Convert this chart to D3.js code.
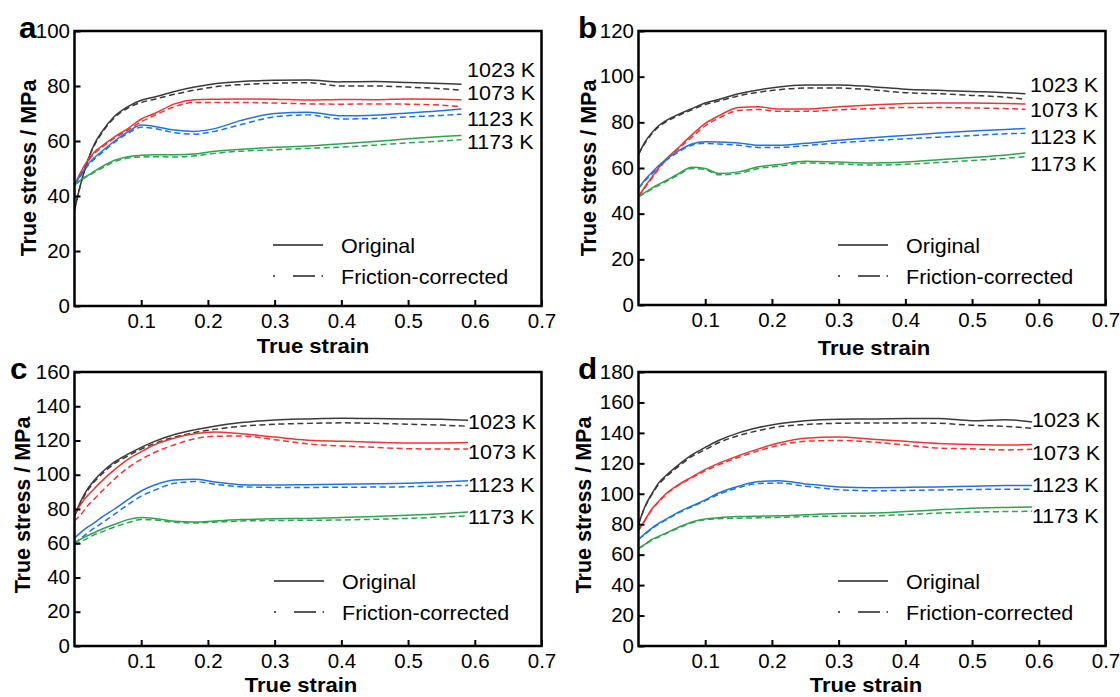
<!DOCTYPE html>
<html><head><meta charset="utf-8">
<script src="https://cdn.jsdelivr.net/npm/d3@7"></script>
<style>html,body{margin:0;padding:0;background:#fff;} svg{display:block;}</style>
</head><body>
<svg id="chart" width="1120" height="697"></svg>
<script>
// ---------- data ----------
const temps = ["1023 K", "1073 K", "1123 K", "1173 K"];
const xTickValues = [0.1, 0.2, 0.3, 0.4, 0.5, 0.6, 0.7];
const legendLabels = ["Original", "Friction-corrected"];
const panelLetters = ["a", "b", "c", "d"];
const yMaxes = [100, 120, 160, 180];

const strainAB = [0,0.01,0.02,0.03,0.04,0.06,0.08,0.10,0.12,0.15,0.18,0.21,0.25,0.30,0.35,0.40,0.45,0.50,0.55,0.58];
const strainCD = [0,0.01,0.02,0.03,0.04,0.06,0.08,0.10,0.12,0.15,0.18,0.21,0.25,0.30,0.35,0.40,0.45,0.50,0.55,0.59];

// panel a
const aOrig1023 = [35,45,53,59,63,69,72.5,74.8,76,78,79.6,80.8,81.6,82.1,82.2,81.5,81.6,81.3,80.9,80.6];
const aCorr1023 = [35,45,53,58.5,62.5,68.5,72,74,75.2,77,78.5,79.7,80.5,81,81.2,80,80,79.6,79,78.5];
const aOrig1073 = [44,49,53,56,58,61.5,64.5,68,70,73.5,75,75.2,75.3,75.2,74.9,75.1,75,75.3,75.2,75];
const aCorr1073 = [44,48.5,52.5,55.5,57.5,61,64,67,69.3,72.5,74,74,74,73.8,73.5,73.4,73.5,73.4,73,72.5];
const aOrig1123 = [44,48,51.5,54,56,60,63.3,65.8,65.3,64,63.5,64.5,67.5,70,70.5,69.2,69.4,70.2,71,71.6];
const aCorr1123 = [44,47.5,51,53.5,55.5,59.5,62.8,65,64.5,63,62.5,63.5,66,68.8,69.5,68,68.2,68.8,69.3,69.8];
const aOrig1173 = [44,46,47.5,49,50.5,53,54.3,54.8,55,55,55.3,56.3,57,57.7,58.2,59,59.8,60.8,61.6,62];
const aCorr1173 = [44,45.8,47.2,48.7,50,52.5,53.8,54.2,54.3,54.2,54.6,55.5,56.3,56.8,57.3,57.8,58.5,59.3,60,60.5];

// panel b
const bOrig1023 = [66,71.5,75.5,78.5,80.5,83.5,86,88.5,90,92.5,94.2,95.5,96.3,96.4,95.6,94.5,94,93.5,93,92.5];
const bCorr1023 = [66,71,75,78,80,83,85.5,87.8,89.3,91.6,93.2,94.3,95,95,94.2,93,92.5,91.8,91,90];
const bOrig1073 = [47.5,52,56,60,63.5,69,74.5,79.5,82.8,86.5,86.8,85.8,85.8,86.8,87.6,88.3,88.5,88.5,88.3,88];
const bCorr1073 = [47.5,51.5,55.5,59.5,63,68.5,73.5,78.5,81.8,85.2,85.6,84.8,84.8,85.5,86,86.5,86.5,86.3,86,85.7];
const bOrig1123 = [51,55,58,61,63.5,67.5,70.5,71.5,71.4,71,70,70,70.8,72.2,73.3,74.2,75.3,76.2,76.9,77.3];
const bCorr1123 = [51,54.5,57.5,60.5,63,67,70,70.8,70.5,70,69,69,69.8,71,72,72.8,73.5,74.2,75,75.2];
const bOrig1173 = [47.5,49.3,51.2,52.8,54.3,57.5,60.3,59.8,57.6,58.3,60.5,61.5,63,62.6,62.2,62.6,63.6,64.6,65.7,66.6];
const bCorr1173 = [47.5,49,50.8,52.3,53.8,57,59.8,59.3,57,57.6,59.8,60.8,62.2,61.8,61.3,61.6,62.4,63.3,64.2,65];

// panel c
const cOrig1023 = [76,85,92,97,101,107.5,112,116,119.5,123.5,126.2,128.3,130.5,132,132.6,133,132.8,132.6,132.4,131.8];
const cCorr1023 = [76,84,91,96,100,106.5,111,115,118.3,122,124.7,126.5,128.3,129.5,130,130.3,130,129.5,129,128.3];
const cOrig1073 = [77,83,88,92,96,103,109,113.5,117.5,121.5,124,125,124,122,120.2,119.6,119,118.6,118.6,118.8];
const cCorr1073 = [73,77,82,86,90,97.5,104,109,113,117.5,121,122.5,122.6,120.5,118,116.8,116,115.2,115,115];
const cOrig1123 = [63,66.5,69.5,72,75,80,85.5,90.5,94,97,97.3,95.8,94.2,94,94.2,94.4,94.7,95.1,95.8,96.5];
const cCorr1123 = [60,63,66,69,71.5,77,82.5,87.5,91,95,96,94.5,93,92.6,92.6,92.7,92.8,93,93.5,93.8];
const cOrig1173 = [60,62.5,64.5,66.3,68,71,73.8,75,74.5,72.8,72.4,73,73.8,74.3,74.5,75,75.6,76.3,77.2,78.2];
const cCorr1173 = [59,61,63,65,66.5,69.5,72,73.8,73.6,72.2,71.8,72.3,73,73.3,73.4,73.6,74,74.5,75.3,76];

// panel d
const dOrig1023 = [80,92,100,107,111.5,119,125.5,130.5,135,140,143.5,146,148,149,149.2,149.5,149.5,148,148.7,147.2];
const dCorr1023 = [80,91.5,99.5,106,110.5,118,124.5,129,133.5,138.3,141.5,144,145.5,146.3,146.5,146.5,146.3,145,144.3,143];
const dOrig1073 = [76,83,90,95,99.5,106,111,116,120,125,129.5,133.3,136.5,137.3,135.8,134.5,133,132.3,132,132.3];
const dCorr1073 = [76,82.5,89.5,94.5,99,105.5,110.5,115,119,124,128.3,131.8,134.5,135,134,132,130,129.5,128.8,129.2];
const dOrig1123 = [70,74,77.5,80.5,83,88,92,96,100.5,105,108,108.5,106.5,104.5,104,104.2,104.5,105,105.4,105.5];
const dCorr1123 = [70,73.5,77,80,82.5,87.5,91.5,95.5,99.5,104,106.8,107,105,102.7,102,102.2,102.5,102.8,103,103];
const dOrig1173 = [64,67,70,72,74,78,81.5,83.5,84.3,85,85.3,85.5,86.2,87,87.3,88.3,89.5,90.5,91,91.3];
const dCorr1173 = [64,66.5,69.5,71.5,73.5,77.5,81,83,83.6,84,84.2,84.5,85,85.3,85.5,86.3,87.3,88,88.3,88.5];

// ---------- layout / style ----------
const FONT = "'Liberation Sans', Arial, Helvetica, sans-serif";
const colors = ["#3a3a3a", "#f03434", "#2272e4", "#2fa34f"];
const PW = 467;
const SX = 1.05; // horizontal stretch of the original figure's text
const FS = 20.5;
const TICK_FS = 19.5;

const panels = [
  {left:74.5, top:31, bottom:306, strain:strainAB,
   orig:[aOrig1023,aOrig1073,aOrig1123,aOrig1173], corr:[aCorr1023,aCorr1073,aCorr1123,aCorr1173],
   letterPos:[19,38], yTitle:[36,168], xTitle:[313,353], labelX:467, labelY:[77,100,126,149], legend:[273,245,276]},
  {left:638.5, top:31, bottom:305, strain:strainAB,
   orig:[bOrig1023,bOrig1073,bOrig1123,bOrig1173], corr:[bCorr1023,bCorr1073,bCorr1123,bCorr1173],
   letterPos:[578,38], yTitle:[596,168], xTitle:[874,355], labelX:1030, labelY:[92,117,144,171], legend:[838,245,276]},
  {left:74.5, top:372, bottom:646, strain:strainCD,
   orig:[cOrig1023,cOrig1073,cOrig1123,cOrig1173], corr:[cCorr1023,cCorr1073,cCorr1123,cCorr1173],
   letterPos:[10,379], yTitle:[30,505], xTitle:[301,692], labelX:468, labelY:[429,459,492,524], legend:[274,581,612]},
  {left:638.5, top:372, bottom:646, strain:strainCD,
   orig:[dOrig1023,dOrig1073,dOrig1123,dOrig1173], corr:[dCorr1023,dCorr1073,dCorr1123,dCorr1173],
   letterPos:[578,379], yTitle:[591,505], xTitle:[866,692], labelX:1032, labelY:[427,460,492,523], legend:[838,581,612]}
];

const svg = d3.select("#chart");
svg.append("rect").attr("width",1120).attr("height",697).attr("fill","#fff");

function addText(g, x, y, s, size, weight, anchor, sx) {
  return g.append("text")
    .attr("transform", `translate(${x},${y}) scale(${sx||SX},1)`)
    .attr("font-family", FONT).attr("font-size", size)
    .attr("font-weight", weight || "normal")
    .attr("text-anchor", anchor || "start")
    .attr("fill", "#000").text(s);
}

panels.forEach((p, pi) => {
  const yMax = yMaxes[pi];
  const x = d3.scaleLinear().domain([0, 0.7]).range([p.left, p.left + PW]);
  const y = d3.scaleLinear().domain([0, yMax]).range([p.bottom, p.top]);
  const g = svg.append("g");
  const line = d3.line().x(d => x(d[0])).y(d => y(d[1])).curve(d3.curveMonotoneX);

  p.corr.forEach((arr, i) => {
    g.append("path").attr("d", line(d3.zip(p.strain, arr)))
      .attr("fill", "none").attr("stroke", colors[i]).attr("stroke-width", 1.5)
      .attr("stroke-dasharray", "6,3.5");
  });
  p.orig.forEach((arr, i) => {
    g.append("path").attr("d", line(d3.zip(p.strain, arr)))
      .attr("fill", "none").attr("stroke", colors[i]).attr("stroke-width", 1.5);
  });

  // axes
  const xAxis = d3.axisBottom(x).tickValues(xTickValues).tickSizeInner(-6).tickSizeOuter(0)
    .tickPadding(8).tickFormat(d3.format(".1f"));
  const gx = g.append("g").attr("transform", `translate(0,${p.bottom})`).call(xAxis);
  const yAxis = d3.axisLeft(y).tickValues(d3.range(0, yMax + 1, 20)).tickSizeInner(-6).tickSizeOuter(0)
    .tickPadding(5).tickFormat(d3.format("d"));
  const gy = g.append("g").attr("transform", `translate(${p.left},0)`).call(yAxis);
  [gx, gy].forEach(ga => {
    ga.select(".domain").remove();
    ga.selectAll(".tick line").attr("stroke", "#000").attr("stroke-width", 2);
    ga.selectAll(".tick text").attr("font-family", FONT).attr("font-size", TICK_FS).attr("fill", "#000")
      .attr("transform", `scale(${SX},1)`);
  });
  gy.selectAll(".tick text").attr("x", -4.5 / SX);

  // frame
  g.append("rect").attr("x", p.left).attr("y", p.top).attr("width", PW).attr("height", p.bottom - p.top)
    .attr("fill", "none").attr("stroke", "#000").attr("stroke-width", 2.5);

  // temperature labels
  temps.forEach((t, i) => addText(g, p.labelX, p.labelY[i], t, FS, "normal", "start"));

  // legend
  const [lx, ly1, ly2] = p.legend;
  g.append("line").attr("x1", lx).attr("x2", lx + 50).attr("y1", ly1).attr("y2", ly1)
    .attr("stroke", "#222").attr("stroke-width", 1.4);
  g.append("line").attr("x1", lx).attr("x2", lx + 50).attr("y1", ly2).attr("y2", ly2)
    .attr("stroke", "#222").attr("stroke-width", 1.4).attr("stroke-dasharray", "2,18,22,6.5,2,40");
  addText(g, lx + 68, ly1 + 7.5, legendLabels[0], FS, "normal", "start");
  addText(g, lx + 68, ly2 + 7.5, legendLabels[1], FS, "normal", "start");

  // titles
  g.append("text").attr("transform", `translate(${p.yTitle[0]},${p.yTitle[1]}) rotate(-90) scale(1,1.05)`)
    .attr("font-family", FONT).attr("font-size", 21.5).attr("font-weight", "bold")
    .attr("text-anchor", "middle").text("True stress / MPa");
  addText(g, p.xTitle[0], p.xTitle[1], "True strain", 21, "bold", "middle");

  // panel letter
  addText(g, p.letterPos[0], p.letterPos[1], panelLetters[pi], 30, "bold", "start");
});
</script>
</body></html>
